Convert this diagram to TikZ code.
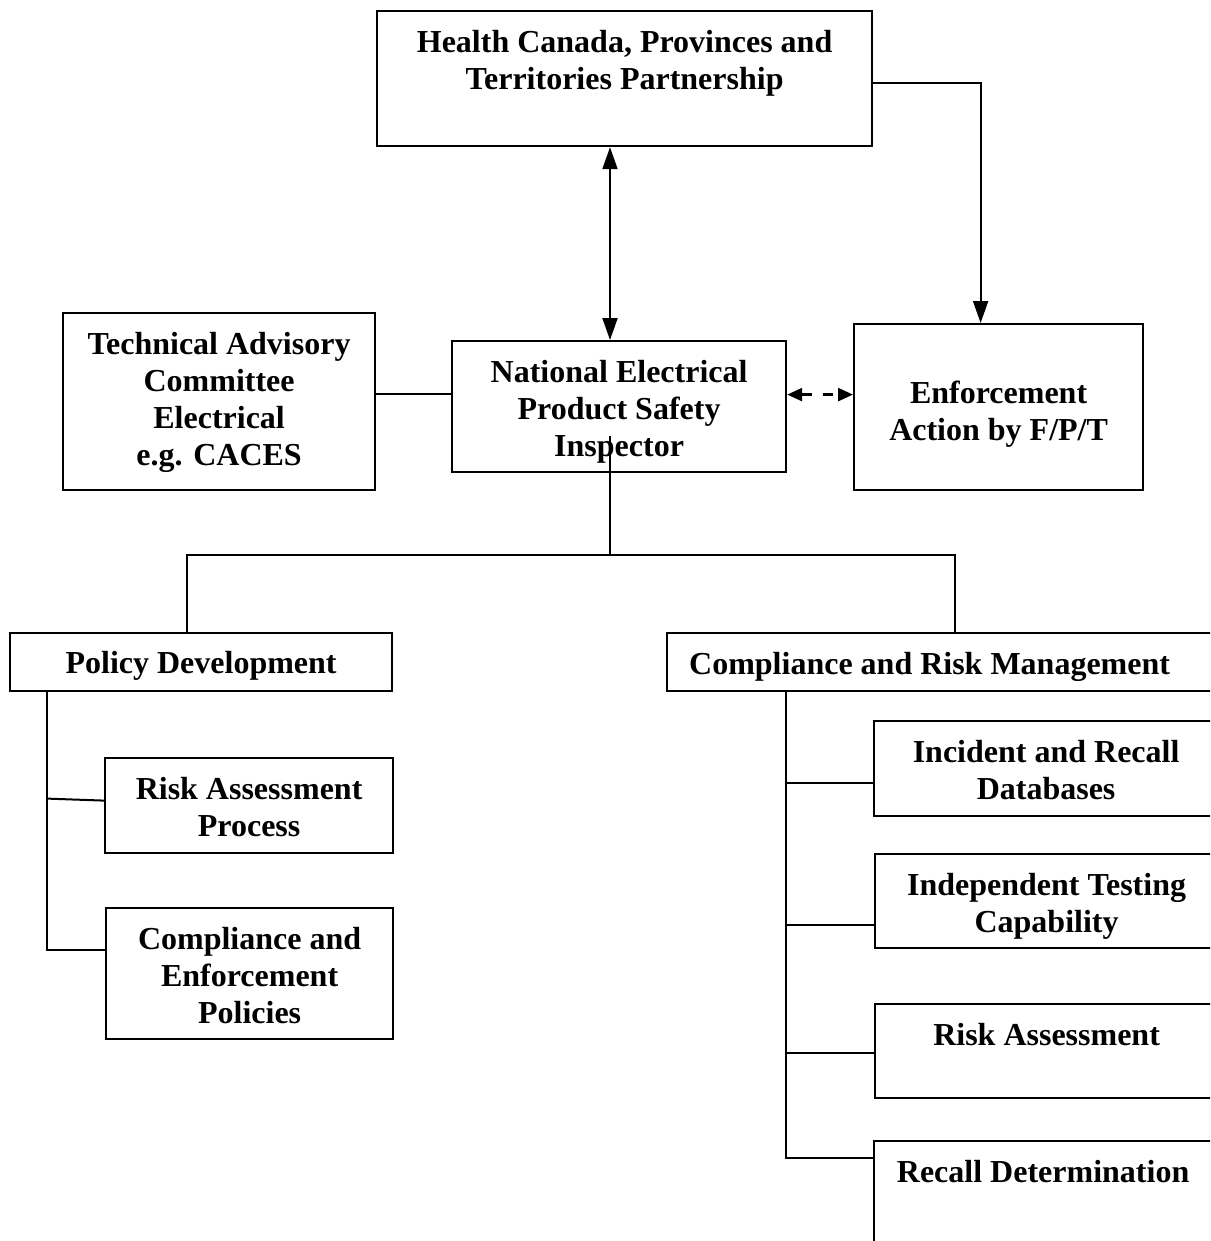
\documentclass[tikz,border=0pt]{standalone}
\usepackage{fontspec}
\setmainfont{Liberation Serif}
\usetikzlibrary{arrows.meta}
\tikzset{
    box/.style={
        draw,
        line width=2.2pt,
        inner sep=0pt,
        anchor=north west
    },
    txt/.style={
        anchor=north,
        align=center,
        inner sep=0pt,
        yshift=-20pt,
        font=\bfseries\fontsize{32}{37}\selectfont
    },
    link/.style={line width=2pt},
    bigtip/.style={line width=2pt, {Triangle[length=22pt,width=15pt]}-{Triangle[length=22pt,width=15pt]}},
    downtip/.style={line width=2pt, -{Triangle[length=22pt,width=15pt]}},
    dashtip/.style={line width=2.4pt, dash pattern=on 10pt off 11pt,
        {Triangle[length=15pt,width=13pt]}-{Triangle[length=15pt,width=13pt]}}
}
\begin{document}
\begin{tikzpicture}[x=1pt,y=-1pt]
        \useasboundingbox (0,0) rectangle (1210,1241);
        \clip (0,0) rectangle (1210,1241);
        % draw top row
        \node[box,minimum width=495,minimum height=135,
            label={[txt]north:Health Canada, Provinces and\\Territories Partnership}]
            (hc) at (376,10) {};
        \node[box,minimum width=312,minimum height=177,
            label={[txt]north:Technical Advisory\\Committee\\Electrical\\e.g. CACES}]
            (tech) at (62,312) {};
        \node[box,minimum width=334,minimum height=131,
            label={[txt]north:National Electrical\\Product Safety\\Inspector}]
            (nepsi) at (451,340) {};
        \node[box,minimum width=289,minimum height=166,
            label={[txt,yshift=-38pt]north:Enforcement\\Action by F/P/T}]
            (enf) at (853,323) {};
        % draw the two branches
        \node[box,minimum width=382,minimum height=58,
            label={[txt,yshift=1pt]north:Policy Development}]
            (pol) at (9,632) {};
        \node[box,minimum width=549,minimum height=58,
            label={[txt,yshift=0pt,xshift=-12pt]north:Compliance and Risk Management}]
            (crm) at (666,632) {};
        % draw policy boxes
        \node[box,minimum width=288,minimum height=95,
            label={[txt]north:Risk Assessment\\Process}]
            (rap) at (104,757) {};
        \node[box,minimum width=287,minimum height=131,
            label={[txt]north:Compliance and\\Enforcement\\Policies}]
            (cep) at (105,907) {};
        % draw compliance boxes
        \node[box,minimum width=344,minimum height=95,
            label={[txt]north:Incident and Recall\\Databases}]
            (ird) at (873,720) {};
        \node[box,minimum width=343,minimum height=94,
            label={[txt]north:Independent Testing\\Capability}]
            (itc) at (874,853) {};
        \node[box,minimum width=343,minimum height=94,
            label={[txt]north:Risk Assessment}]
            (ra) at (874,1003) {};
        \node[box,minimum width=344,minimum height=130,
            label={[txt,xshift=-3pt]north:Recall Determination}]
            (rd) at (873,1140) {};
        % draw arrows
        \coordinate (trunk) at (610,555);
        \draw[bigtip] (hc.south -| trunk) -- (nepsi.north -| trunk);
        \draw[downtip] ([yshift=-4pt]hc.east) -| ([xshift=-18pt]enf.north);
        \draw[dashtip] ([yshift=12pt]nepsi.east) -- ([yshift=12pt]nepsi.east -| enf.west);
        \draw[link] ([yshift=8pt]tech.east) -- ([yshift=8pt]tech.east -| nepsi.west);
        % draw tree lines
        \coordinate (busL) at (187,555);
        \coordinate (busR) at (955,555);
        \draw[link] ([yshift=37pt]nepsi.south -| trunk) -- (trunk);
        \draw[link] (busL |- pol.north) -- (busL) -- (busR) -- (busR |- crm.north);
        \coordinate (pspine) at (47,0);
        \draw[link] (pol.south -| pspine) |- ([yshift=24pt]cep.west);
        \draw[link] ([yshift=7pt]pspine |- rap.west) -- ([yshift=5pt]rap.west);
        \coordinate (cspine) at (786,0);
        \draw[link] (crm.south -| cspine) |- ([yshift=-18pt]rd.north west);
        \foreach \b/\s in {ird/-14,itc/-24,ra/-2}
            \draw[link] ([yshift=\s pt]cspine |- \b.west) -- ([yshift=\s pt]\b.west);
\end{tikzpicture}
\end{document}
